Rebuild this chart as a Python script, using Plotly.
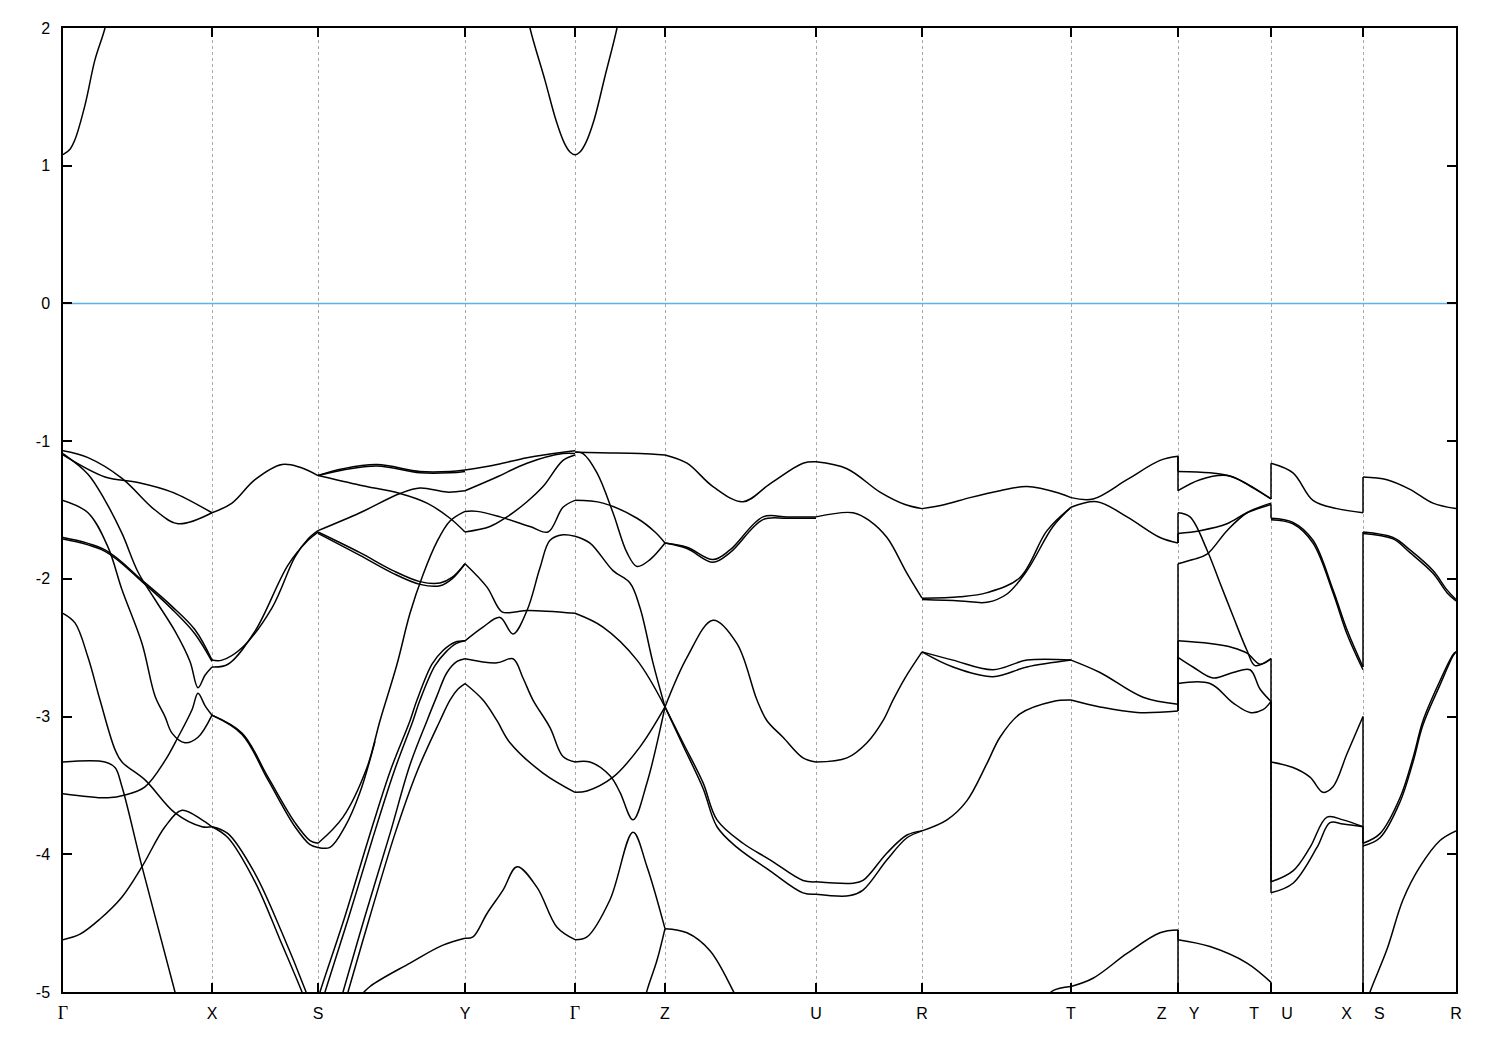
import plotly.graph_objects as go

# ---------------- data ----------------
# k-path coordinate (arbitrary units) of the high-symmetry points
hs_k = [63, 212, 318, 465, 575, 665, 816, 922, 1071, 1178, 1271, 1363, 1456]
NB = "\u00a0" * 5
G = "<span style='font-family:Liberation Serif;font-size:18px'>Γ</span>"
hs_labels = [G, "X", "S", "Y", G, "Z", "U", "R", "T",
             "Z" + NB + "Y", "T" + NB + "U", "X" + NB + "S", "R"]
E_FERMI = 0.0
y_ticks = [-5, -4, -3, -2, -1, 0, 1, 2]

# conduction bands (k, E[eV])
cond = [
    [(63, 1.08), (70, 1.12), (75, 1.19), (85, 1.44), (95, 1.77), (105, 2.0), (112, 2.25)],
    [(525, 2.2), (530, 2.0), (545, 1.62), (556, 1.33), (564, 1.17), (570, 1.10), (575, 1.08),
     (580, 1.10), (586, 1.17), (594, 1.33), (605, 1.65), (617, 2.0), (622, 2.2)],
]

seg_GX = [
    [(63, -1.07), (88, -1.12), (122, -1.27), (155, -1.50), (178, -1.60), (212, -1.52)],
    [(63, -1.10), (105, -1.26), (138, -1.30), (172, -1.37), (212, -1.52)],
    [(63, -1.09), (88, -1.24), (105, -1.43), (122, -1.67), (138, -1.95), (155, -2.15),
     (175, -2.38), (190, -2.60), (198, -2.79), (205, -2.70), (212, -2.64)],
    [(63, -1.70), (105, -1.79), (142, -2.01), (172, -2.20), (195, -2.37), (212, -2.59)],
    [(63, -1.71), (105, -1.80), (142, -2.02), (172, -2.22), (195, -2.40), (212, -2.60)],
    [(63, -1.43), (88, -1.52), (108, -1.77), (122, -2.08), (142, -2.47), (155, -2.85),
     (165, -3.00), (172, -3.12), (185, -3.19), (198, -3.15), (212, -2.99)],
    [(63, -2.25), (75, -2.32), (88, -2.57), (100, -2.88), (115, -3.24), (122, -3.33),
     (145, -3.46), (175, -3.70), (202, -3.80), (212, -3.80)],
    [(63, -3.33), (105, -3.33), (115, -3.37), (122, -3.51), (142, -4.09), (175, -5.0), (180, -5.15)],
    [(63, -3.56), (108, -3.59), (125, -3.57), (145, -3.51), (165, -3.32), (178, -3.15),
     (192, -2.95), (198, -2.83), (205, -2.92), (212, -2.99)],
    [(63, -4.62), (80, -4.58), (100, -4.47), (122, -4.31), (142, -4.09), (165, -3.80),
     (182, -3.68), (202, -3.75), (212, -3.80)],
]

seg_XS = [
    [(212, -1.52), (232, -1.45), (255, -1.28), (282, -1.17), (300, -1.19), (318, -1.25)],
    [(212, -2.59), (222, -2.59), (242, -2.50), (272, -2.21), (295, -1.84), (308, -1.71), (318, -1.65)],
    [(212, -2.64), (228, -2.62), (255, -2.38), (288, -1.90), (308, -1.72), (318, -1.66)],
    [(212, -2.99), (242, -3.12), (268, -3.44), (295, -3.77), (310, -3.90), (318, -3.92)],
    [(212, -2.99), (242, -3.13), (268, -3.46), (295, -3.80), (310, -3.93), (318, -3.95)],
    [(212, -3.80), (228, -3.85), (255, -4.14), (282, -4.57), (305, -4.98), (310, -5.08)],
    [(212, -3.80), (228, -3.88), (255, -4.20), (280, -4.62), (302, -5.0), (306, -5.08)],
]

seg_SY = [
    [(318, -1.25), (343, -1.20), (377, -1.17), (420, -1.22), (450, -1.22), (465, -1.21)],
    [(318, -1.25), (343, -1.21), (377, -1.18), (420, -1.23), (450, -1.23), (465, -1.22)],
    [(318, -1.65), (360, -1.52), (400, -1.38), (420, -1.34), (447, -1.37), (465, -1.36)],
    [(318, -1.25), (360, -1.32), (400, -1.38), (427, -1.45), (450, -1.56), (465, -1.66)],
    [(318, -1.66), (360, -1.81), (393, -1.94), (420, -2.02), (440, -2.03), (452, -1.99), (465, -1.89)],
    [(318, -1.67), (360, -1.83), (393, -1.96), (420, -2.04), (440, -2.05), (452, -2.00), (465, -1.89)],
    [(318, -3.92), (343, -3.73), (367, -3.37), (380, -3.03), (397, -2.62), (410, -2.25),
     (423, -1.97), (437, -1.73), (450, -1.58), (465, -1.51)],
    [(318, -3.95), (330, -3.95), (345, -3.80), (360, -3.55), (375, -3.18)],
    [(316, -5.1), (320, -5.0), (345, -4.45), (368, -3.90), (390, -3.40), (410, -3.03),
     (417, -2.88), (432, -2.62), (443, -2.52), (455, -2.46), (465, -2.45)],
    [(321, -5.1), (325, -5.0), (349, -4.45), (372, -3.90), (394, -3.40), (413, -3.03),
     (420, -2.88), (435, -2.63), (446, -2.53), (456, -2.47), (465, -2.45)],
    [(340, -5.08), (343, -5.0), (365, -4.45), (390, -3.85), (410, -3.35), (427, -3.03),
     (437, -2.85), (447, -2.68), (457, -2.60), (465, -2.58)],
    [(345, -5.08), (348, -5.0), (370, -4.45), (395, -3.85), (417, -3.40), (440, -3.03),
     (450, -2.88), (458, -2.80), (465, -2.76)],
    [(358, -5.05), (370, -4.96), (410, -4.79), (443, -4.66), (465, -4.61)],
]

seg_YG = [
    [(465, -1.21), (497, -1.17), (527, -1.12), (563, -1.08), (575, -1.07)],
    [(465, -1.36), (497, -1.26), (527, -1.16), (563, -1.09), (575, -1.09)],
    [(465, -1.66), (490, -1.62), (507, -1.55), (527, -1.44), (543, -1.33), (563, -1.14), (575, -1.10)],
    [(465, -1.51), (477, -1.51), (500, -1.55), (530, -1.62), (548, -1.66), (563, -1.48), (575, -1.43)],
    [(465, -1.89), (487, -2.06), (502, -2.24), (515, -2.24), (527, -2.23), (575, -2.25)],
    [(465, -2.45), (483, -2.35), (500, -2.28), (513, -2.40), (527, -2.23), (540, -1.92),
     (550, -1.72), (563, -1.68), (575, -1.69)],
    [(465, -2.58), (497, -2.61), (513, -2.58), (523, -2.72), (533, -2.88), (550, -3.08),
     (563, -3.29), (575, -3.33)],
    [(465, -2.76), (483, -2.88), (497, -3.03), (510, -3.19), (543, -3.41), (575, -3.55)],
    [(465, -4.61), (473, -4.60), (487, -4.43), (503, -4.26), (517, -4.09), (537, -4.24),
     (557, -4.53), (575, -4.62)],
]

seg_GZ = [
    [(575, -1.08), (600, -1.085), (640, -1.09), (665, -1.10)],
    [(575, -1.08), (583, -1.09), (597, -1.23), (613, -1.52), (627, -1.81), (637, -1.91),
     (650, -1.86), (665, -1.74)],
    [(575, -1.43), (603, -1.45), (637, -1.56), (655, -1.66), (665, -1.74)],
    [(575, -1.69), (590, -1.74), (613, -1.94), (630, -2.03), (640, -2.21), (653, -2.61), (665, -2.93)],
    [(575, -2.25), (603, -2.35), (637, -2.59), (665, -2.93)],
    [(575, -3.33), (590, -3.33), (610, -3.43), (620, -3.55), (633, -3.75), (647, -3.48), (665, -2.93)],
    [(575, -3.55), (587, -3.54), (613, -3.44), (640, -3.22), (665, -2.93)],
    [(575, -4.62), (587, -4.60), (610, -4.33), (633, -3.84), (647, -4.09), (665, -4.54)],
    [(640, -5.2), (647, -4.99), (657, -4.77), (665, -4.54)],
]

seg_ZU = [
    [(665, -1.10), (687, -1.16), (713, -1.33), (743, -1.44), (770, -1.31), (803, -1.16), (816, -1.15)],
    [(665, -1.74), (687, -1.77), (713, -1.86), (730, -1.79), (763, -1.55), (787, -1.55), (816, -1.55)],
    [(665, -1.74), (687, -1.78), (713, -1.88), (730, -1.81), (763, -1.57), (787, -1.56), (816, -1.56)],
    [(665, -2.93), (687, -2.57), (713, -2.30), (737, -2.47), (757, -2.88), (767, -3.03),
     (783, -3.15), (803, -3.30), (816, -3.33)],
    [(665, -2.93), (683, -3.19), (703, -3.48), (717, -3.75), (743, -3.92), (770, -4.04),
     (803, -4.19), (816, -4.20)],
    [(665, -2.93), (683, -3.21), (703, -3.52), (717, -3.80), (737, -3.95), (770, -4.12),
     (803, -4.28), (816, -4.29)],
    [(665, -4.54), (687, -4.57), (710, -4.70), (733, -4.99), (740, -5.1)],
]

seg_UR = [
    [(816, -1.15), (847, -1.20), (880, -1.37), (905, -1.46), (922, -1.49)],
    [(816, -1.55), (853, -1.52), (870, -1.58), (887, -1.70), (907, -1.96), (922, -2.14)],
    [(816, -3.33), (847, -3.30), (867, -3.19), (883, -3.03), (893, -2.88), (905, -2.72), (922, -2.53)],
    [(816, -4.20), (853, -4.21), (863, -4.19), (887, -3.99), (907, -3.86), (922, -3.83)],
    [(816, -4.29), (850, -4.30), (863, -4.26), (887, -4.04), (907, -3.88), (922, -3.83)],
]

seg_RT = [
    [(922, -1.49), (945, -1.46), (970, -1.41), (1000, -1.36), (1027, -1.33), (1060, -1.38), (1071, -1.41)],
    [(922, -2.14), (960, -2.13), (987, -2.10), (1020, -1.99), (1047, -1.65), (1071, -1.48)],
    [(922, -2.15), (960, -2.16), (987, -2.17), (1007, -2.11), (1027, -1.94), (1053, -1.62), (1071, -1.48)],
    [(922, -2.53), (953, -2.59), (993, -2.66), (1027, -2.59), (1071, -2.59)],
    [(922, -2.53), (953, -2.64), (993, -2.71), (1027, -2.64), (1071, -2.59)],
    [(922, -3.83), (947, -3.75), (967, -3.61), (987, -3.34), (1000, -3.15), (1020, -2.98),
     (1053, -2.89), (1071, -2.88)],
    [(1045, -5.05), (1053, -4.99), (1071, -4.96)],
]

seg_TZ = [
    [(1071, -1.41), (1093, -1.42), (1127, -1.28), (1160, -1.14), (1178, -1.11)],
    [(1071, -1.48), (1097, -1.44), (1127, -1.55), (1160, -1.70), (1178, -1.74)],
    [(1071, -2.59), (1100, -2.68), (1143, -2.86), (1178, -2.91)],
    [(1071, -2.88), (1100, -2.93), (1137, -2.97), (1178, -2.96)],
    [(1071, -4.96), (1093, -4.90), (1127, -4.72), (1160, -4.57), (1178, -4.55)],
]

seg_YT = [
    [(1178, -1.22), (1210, -1.23), (1233, -1.26), (1253, -1.34), (1271, -1.42)],
    [(1178, -1.36), (1200, -1.28), (1227, -1.25), (1247, -1.31), (1271, -1.42)],
    [(1178, -1.52), (1190, -1.55), (1207, -1.79), (1220, -2.03), (1233, -2.27), (1247, -2.52),
     (1255, -2.63), (1271, -2.58)],
    [(1178, -1.67), (1200, -1.65), (1227, -1.60), (1247, -1.52), (1271, -1.46)],
    [(1178, -1.89), (1193, -1.86), (1207, -1.82), (1227, -1.65), (1247, -1.52), (1271, -1.45)],
    [(1178, -2.45), (1210, -2.47), (1233, -2.50), (1247, -2.54), (1260, -2.62), (1271, -2.58)],
    [(1178, -2.57), (1193, -2.64), (1213, -2.72), (1233, -2.68), (1250, -2.66), (1260, -2.80), (1271, -2.89)],
    [(1178, -2.76), (1210, -2.76), (1233, -2.90), (1250, -2.97), (1263, -2.95), (1271, -2.89)],
    [(1178, -4.62), (1210, -4.67), (1247, -4.79), (1271, -4.93)],
]

seg_UX = [
    [(1271, -1.16), (1293, -1.23), (1313, -1.43), (1337, -1.49), (1363, -1.52)],
    [(1271, -1.56), (1293, -1.59), (1313, -1.72), (1333, -2.08), (1347, -2.37), (1363, -2.64)],
    [(1271, -1.57), (1293, -1.60), (1313, -1.74), (1333, -2.10), (1347, -2.40), (1363, -2.66)],
    [(1271, -3.33), (1293, -3.37), (1310, -3.44), (1323, -3.55), (1333, -3.51), (1347, -3.27), (1363, -3.00)],
    [(1271, -4.20), (1293, -4.12), (1310, -3.95), (1327, -3.73), (1343, -3.75), (1363, -3.80)],
    [(1271, -4.28), (1293, -4.21), (1317, -3.95), (1330, -3.77), (1343, -3.78), (1363, -3.80)],
]

seg_SR = [
    [(1363, -1.26), (1387, -1.28), (1410, -1.35), (1433, -1.45), (1456, -1.49)],
    [(1363, -1.66), (1393, -1.70), (1410, -1.79), (1433, -1.94), (1447, -2.08), (1456, -2.15)],
    [(1363, -1.67), (1393, -1.71), (1410, -1.81), (1433, -1.96), (1447, -2.10), (1456, -2.16)],
    [(1363, -3.92), (1380, -3.85), (1400, -3.59), (1413, -3.30), (1423, -3.03), (1440, -2.74),
     (1453, -2.55), (1456, -2.53)],
    [(1363, -3.94), (1380, -3.88), (1400, -3.62), (1413, -3.33), (1423, -3.06), (1440, -2.77),
     (1453, -2.56), (1456, -2.53)],
    [(1366, -5.1), (1370, -5.0), (1387, -4.69), (1403, -4.33), (1420, -4.09), (1440, -3.90), (1456, -3.83)],
]

# band values on both sides of the path discontinuities (k, [(E_before, E_after), ...])
jump_ZY = (1178, [(-1.11, -1.22), (-1.11, -1.36), (-1.74, -1.52), (-1.74, -1.67), (-2.91, -1.89),
                  (-2.91, -2.45), (-2.96, -2.57), (-2.96, -2.76), (-4.55, -4.62), (-4.55, -5.3)])
jump_TU = (1271, [(-1.42, -1.16), (-1.46, -1.56), (-2.58, -3.33), (-2.89, -4.20), (-2.89, -4.28),
                  (-4.93, -5.3)])
jump_XS = (1363, [(-1.52, -1.26), (-2.64, -1.66), (-3.00, -3.92), (-3.80, -5.3)])

# ---------------- figure ----------------
fig = go.Figure()
LW = 1.5


def add_curve(pts):
    fig.add_trace(go.Scatter(
        x=[p[0] for p in pts], y=[p[1] for p in pts], mode="lines",
        line=dict(color="black", width=LW, shape="spline", smoothing=1.0),
        hoverinfo="skip", showlegend=False))


for seg in [cond, seg_GX, seg_XS, seg_SY, seg_YG, seg_GZ, seg_ZU, seg_UR,
            seg_RT, seg_TZ, seg_YT, seg_UX, seg_SR]:
    for c in seg:
        add_curve(c)

for kj, pairs in [jump_ZY, jump_TU, jump_XS]:
    for a, b in pairs:
        fig.add_trace(go.Scatter(x=[kj, kj], y=[a, b], mode="lines",
                                 line=dict(color="black", width=LW),
                                 hoverinfo="skip", showlegend=False))

fig.add_trace(go.Scatter(x=[hs_k[0], hs_k[-1]], y=[E_FERMI, E_FERMI], mode="lines",
                         line=dict(color="#56b4e9", width=1.5),
                         hoverinfo="skip", showlegend=False))

fig.update_layout(
    width=1484, height=1034,
    margin=dict(l=55, r=36, t=20, b=50),
    plot_bgcolor="white", paper_bgcolor="white",
    font=dict(family="Liberation Sans, Arial, sans-serif", size=16, color="black"),
    showlegend=False,
)
fig.update_xaxes(
    range=[hs_k[0], hs_k[-1]], tickmode="array", tickvals=hs_k, ticktext=hs_labels,
    ticks="inside", ticklen=9, tickwidth=1.5, tickcolor="black",
    showline=True, linecolor="black", linewidth=1.5, mirror="allticks",
    showgrid=True, gridcolor="#a8a8a8", gridwidth=1, griddash="3px,3px",
    zeroline=False, ticklabelstandoff=6,
)
fig.update_yaxes(
    range=[-5, 2], tickmode="array", tickvals=y_ticks, ticktext=[str(v) for v in y_ticks],
    ticks="inside", ticklen=9, tickwidth=1.5, tickcolor="black",
    showline=True, linecolor="black", linewidth=1.5, mirror="allticks",
    showgrid=False, zeroline=False, ticklabelstandoff=8,
)

fig.write_html("out.html")
